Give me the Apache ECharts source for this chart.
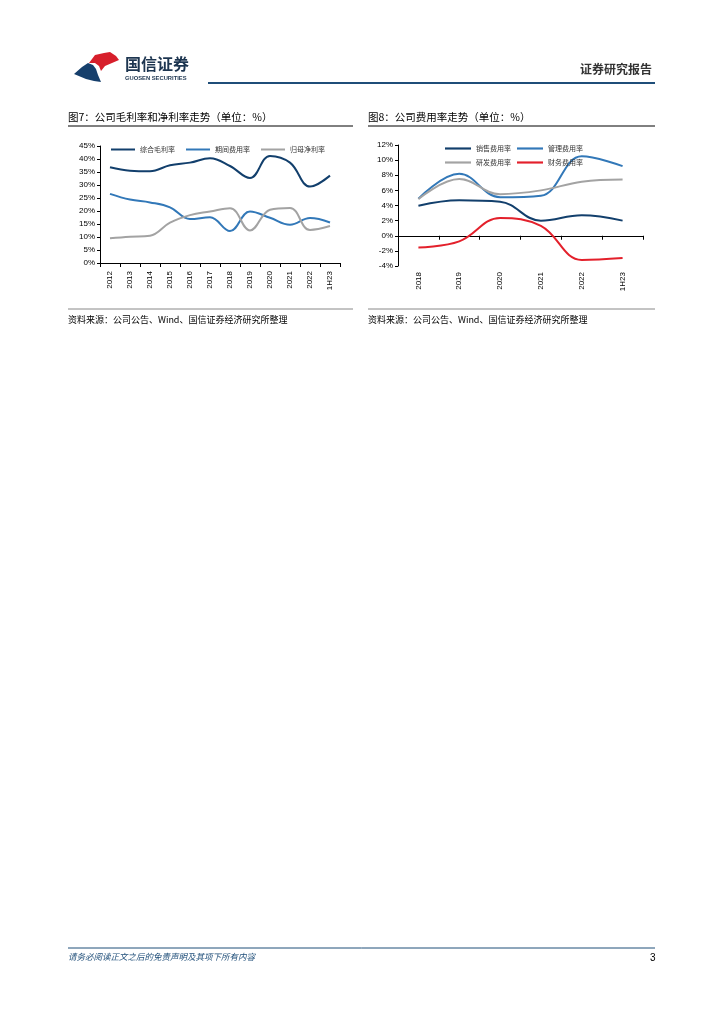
<!DOCTYPE html>
<html><head><meta charset="utf-8">
<script src="https://cdn.jsdelivr.net/npm/echarts@6/dist/echarts.min.js"></script>
<style>html,body{margin:0;padding:0;background:#fff}#c{width:724px;height:1024px}</style>
</head><body><div id="c"></div>
<script>
// ---- Chart 7 data ----
const years7 = ['2012','2013','2014','2015','2016','2017','2018','2019','2020','2021','2022','1H23'];
const grossMargin = [36.8,35.5,35.3,37.6,38.6,40.3,37.3,32.7,41.2,38.6,29.4,33.6];
const periodExpense = [26.6,24.4,23.3,21.4,16.9,17.6,12.3,19.8,17.4,14.7,17.3,15.6];
const netMargin = [9.5,10.1,10.5,15.5,18.4,19.8,21.1,12.5,20.5,21.2,12.7,14.2];
const names7 = ['综合毛利率','期间费用率','归母净利率'];
const yTicks7 = [0,5,10,15,20,25,30,35,40,45];
// ---- Chart 8 data ----
const years8 = ['2018','2019','2020','2021','2022','1H23'];
const salesExp = [3.97,4.7,4.5,2.0,2.7,2.0];
const adminExp = [4.9,8.2,5.1,5.3,10.5,9.2];
const rdExp = [4.85,7.5,5.5,6.0,7.15,7.45];
const finExp = [-1.55,-0.75,2.35,1.3,-3.2,-2.95];
const names8 = ['销售费用率','管理费用率','研发费用率','财务费用率'];
const yTicks8 = [-4,-2,0,2,4,6,8,10,12];

const NAVY = '#123f6c', BLUE = '#3278b8', GRAY = '#a3a3a3', RED = '#e3202b';
const CJK = '"Noto Sans CJK SC", sans-serif';
const LAT = '"Liberation Sans", Arial, sans-serif';

const chart = echarts.init(document.getElementById('c'), null, {renderer:'canvas'});

function txt(text, x, y, size, color, weight, extra){
  return Object.assign({type:'text', style:{text, x, y, font:(weight||'normal')+' '+size+'px '+CJK, fill:color||'#000', textVerticalAlign:'middle'}}, extra||{});
}
function ln(x1,y1,x2,y2,color,w){
  return {type:'line', shape:{x1,y1,x2,y2}, style:{stroke:color, lineWidth:w}};
}

const graphics = [
  // logo
  {type:'polygon', shape:{points:[[89,63],[95,55],[104,53],[110,52],[116,56],[119,60],[112,63],[105,66],[101,71],[99,66],[95,63]]}, style:{fill:'#d71f2b'}},
  {type:'polygon', shape:{points:[[74,74],[82,67],[88,63],[93,65],[96,69],[98,75],[101,82],[94,81],[86,79]]}, style:{fill:'#163f6c'}},
  txt('国信证券', 125, 64, 16, '#1d3550', 'bold'),
  {type:'text', style:{text:'GUOSEN SECURITIES', x:125, y:78, font:'bold 5.8px '+LAT, fill:'#1d3550', textVerticalAlign:'middle'}},
  ln(208, 83, 655, 83, '#1f4e79', 2),
  txt('证券研究报告', 580, 69, 12, '#333', 'bold'),
  // titles
  txt('图7：公司毛利率和净利率走势（单位：%）', 68, 117, 10.5, '#000'),
  ln(68, 126, 353, 126, '#000', 1),
  txt('图8：公司费用率走势（单位：%）', 368, 117, 10.5, '#000'),
  ln(368, 126, 655, 126, '#000', 1),
  // sources
  ln(68, 309, 353, 309, '#888', 1),
  ln(368, 309, 655, 309, '#888', 1),
  txt('资料来源：公司公告、Wind、国信证券经济研究所整理', 68, 320, 9, '#000'),
  txt('资料来源：公司公告、Wind、国信证券经济研究所整理', 368, 320, 9, '#000'),
  // footer
  ln(68, 948, 655, 948, '#1f4e79', 1),
  txt('请务必阅读正文之后的免责声明及其项下所有内容', 68, 957, 8.5, '#1f4e79', 'italic'),
  {type:'text', style:{text:'3', x:650, y:958, font:'10px '+LAT, fill:'#000', textVerticalAlign:'middle'}}
];

const axLbl = {fontSize:8, color:'#000', fontFamily:LAT};
const legText = {fontSize:7, color:'#333', fontFamily:CJK};
const icon = 'path://M0,3L24,3L24,5L0,5Z';
const SM = 0.4;

const option = {
  animation:false,
  backgroundColor:'#fff',
  graphic: graphics,
  legend: [
    {data:names7, left:106, top:141, itemWidth:24, itemHeight:8, itemGap:11, textStyle:legText, icon},
    {data:[names8[0],names8[1]], left:440, top:140, itemWidth:26, itemHeight:8, itemGap:6, textStyle:legText, icon},
    {data:[names8[2],names8[3]], left:440, top:154, itemWidth:26, itemHeight:8, itemGap:6, textStyle:legText, icon}
  ],
  grid: [
    {left:100, top:146, width:240, height:117},
    {left:398, top:145, width:245, height:121}
  ],
  xAxis: [
    {gridIndex:0, type:'category', data:years7, boundaryGap:true,
     axisLine:{lineStyle:{color:'#000', width:1}}, axisTick:{show:true, length:4, lineStyle:{color:'#000'}},
     axisLabel:Object.assign({rotate:90, margin:8, interval:0}, axLbl)},
    {gridIndex:1, type:'category', data:years8, boundaryGap:true,
     axisLine:{onZero:true, lineStyle:{color:'#000', width:1}}, axisTick:{show:true, length:4, lineStyle:{color:'#000'}},
     axisLabel:{show:false}},
    {gridIndex:1, type:'category', data:years8, boundaryGap:true, position:'bottom',
     axisLine:{show:false, onZero:false}, axisTick:{show:false},
     axisLabel:Object.assign({rotate:90, margin:6, interval:0}, axLbl)}
  ],
  yAxis: [
    {gridIndex:0, type:'value', min:yTicks7[0], max:yTicks7[yTicks7.length-1], interval:5,
     axisLine:{show:true, lineStyle:{color:'#000'}}, axisTick:{show:true, length:3, lineStyle:{color:'#000'}},
     splitLine:{show:false}, axisLabel:Object.assign({formatter:'{value}%', margin:5}, axLbl)},
    {gridIndex:1, type:'value', min:yTicks8[0], max:yTicks8[yTicks8.length-1], interval:2,
     axisLine:{show:true, lineStyle:{color:'#000'}}, axisTick:{show:true, length:3, lineStyle:{color:'#000'}},
     splitLine:{show:false}, axisLabel:Object.assign({formatter:'{value}%', margin:5}, axLbl)}
  ],
  series: [
    {name:names7[0], type:'line', xAxisIndex:0, yAxisIndex:0, data:grossMargin, smooth:SM, symbol:'none', lineStyle:{color:NAVY, width:2}, itemStyle:{color:NAVY}},
    {name:names7[1], type:'line', xAxisIndex:0, yAxisIndex:0, data:periodExpense, smooth:SM, symbol:'none', lineStyle:{color:BLUE, width:2}, itemStyle:{color:BLUE}},
    {name:names7[2], type:'line', xAxisIndex:0, yAxisIndex:0, data:netMargin, smooth:SM, symbol:'none', lineStyle:{color:GRAY, width:2}, itemStyle:{color:GRAY}},
    {name:names8[0], type:'line', xAxisIndex:1, yAxisIndex:1, data:salesExp, smooth:SM, symbol:'none', lineStyle:{color:NAVY, width:2}, itemStyle:{color:NAVY}},
    {name:names8[1], type:'line', xAxisIndex:1, yAxisIndex:1, data:adminExp, smooth:SM, symbol:'none', lineStyle:{color:BLUE, width:2}, itemStyle:{color:BLUE}},
    {name:names8[2], type:'line', xAxisIndex:1, yAxisIndex:1, data:rdExp, smooth:SM, symbol:'none', lineStyle:{color:GRAY, width:2}, itemStyle:{color:GRAY}},
    {name:names8[3], type:'line', xAxisIndex:1, yAxisIndex:1, data:finExp, smooth:SM, symbol:'none', lineStyle:{color:RED, width:2}, itemStyle:{color:RED}}
  ]
};
chart.setOption(option);
</script></body></html>
